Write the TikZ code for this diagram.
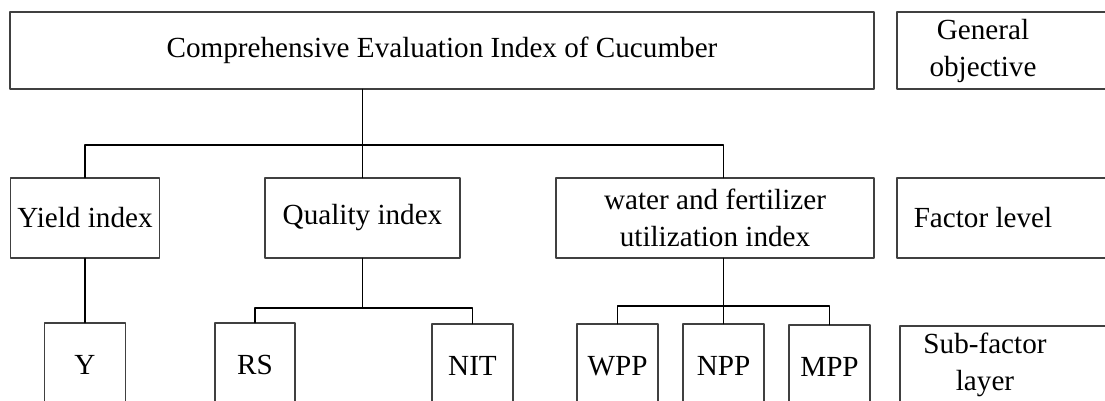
\documentclass[tikz,border=0pt]{standalone}
\usepackage{fontspec}
\setmainfont{Liberation Serif}
\begin{document}
\begin{tikzpicture}[x=0.02cm, y=-0.02cm, line cap=round, line join=round,
		font=\fontsize{16.6}{21}\selectfont,
		box/.style={draw=black!75, line width=0.7pt, inner sep=0pt, align=center},
		sz/.style 2 args={minimum width=#1*0.2mm, minimum height=#2*0.2mm},
		link/.style={draw=black, line width=1.1pt},
		frame/.style={draw=black!75, line width=0.7pt}]
			\useasboundingbox (0,0) rectangle (1105,401);
			\clip (0,0) rectangle (1105,401);
			\node[box, sz={864}{77}] (top) at (442,50.5) {Comprehensive Evaluation Index of Cucumber};
			\node[box, sz={149}{80}] (yield) at (85,218) {Yield index};
			\node[box, sz={195}{80}] (quality) at (362.5,218) {Quality index};
			\node[box, sz={318}{80}] (water) at (715,218) {water and fertilizer\\utilization index};
			\node[box, sz={81}{84}] (y) at (85,365) {Y};
			\node[box, sz={80}{84}] (rs) at (255,365) {RS};
			\node[box, sz={81}{84}] (nit) at (472.5,366) {NIT};
			\node[box, sz={81}{84}] (wpp) at (617.5,366) {WPP};
			\node[box, sz={81}{84}] (npp) at (723.5,366) {NPP};
			\node[box, sz={81}{84}] (mpp) at (829.5,367) {MPP};
			\draw[frame] (897,12) rectangle (1130,89);
			\draw[frame] (897,178) rectangle (1130,258);
			\draw[frame] (900,326) rectangle (1130,420);
			\node[align=center] (gen) at (983,51) {General\\objective};
			\node[align=center] (fac) at (983,218) {Factor level};
			\node[align=center] (sub) at (985,365) {Sub-factor\\layer};
			\draw[link] (top.south -| quality.north) -- (quality.north);
			\draw[link] (yield.north) -- ++(0,-32) -| (water.north -| npp.north);
			\draw[link] (yield.south) -- (y.north);
			\draw[link] (quality.south) -- ++(0,49) coordinate (qb);
			\draw[link] (rs.north) |- (qb) -| (nit.north);
			\draw[link] (water.south -| npp.north) -- (npp.north);
			\draw[link] (wpp.north) -- ++(0,-17) -| (mpp.north);
		\end{tikzpicture}
\end{document}
